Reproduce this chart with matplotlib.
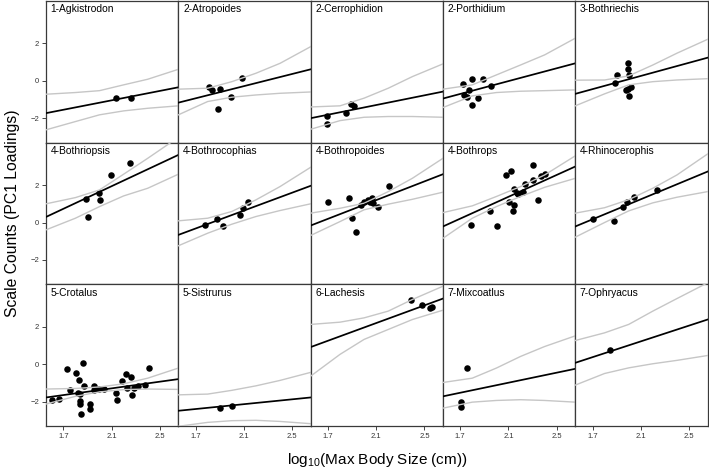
import matplotlib
matplotlib.use('Agg')
from matplotlib import pyplot as plt
import numpy as np

plt.rcParams['font.family'] = ['Liberation Sans', 'DejaVu Sans']
plt.rcParams['mathtext.fontset'] = 'custom'
plt.rcParams['mathtext.rm'] = 'Liberation Sans'
plt.rcParams['mathtext.default'] = 'regular'

genera = ['1-Agkistrodon', '2-Atropoides', '2-Cerrophidion', '2-Porthidium', '3-Bothriechis',
          '4-Bothriopsis', '4-Bothrocophias', '4-Bothropoides', '4-Bothrops', '4-Rhinocerophis',
          '5-Crotalus', '5-Sistrurus', '6-Lachesis', '7-Mixcoatlus', '7-Ophryacus']

# species points: log10 max body size, PC1 loading
pts_x = [
    [2.14, 2.26],
    [1.814, 1.838, 1.902, 1.888, 1.993, 2.084],
    [1.695, 1.695, 1.852, 1.894, 1.913],
    [1.725, 1.800, 1.885, 1.772, 1.734, 1.758, 1.844, 1.800, 1.957],
    [1.888, 1.905, 1.998, 1.993, 2.004, 2.021, 1.974, 1.993, 2.001],
    [1.885, 1.907, 1.999, 2.004, 2.092, 2.250],
    [1.778, 1.880, 1.924, 2.070, 2.095, 2.136],
    [1.700, 1.872, 1.902, 1.930, 1.971, 1.996, 2.032, 2.068, 2.073, 2.051, 2.114, 2.205],
    [1.786, 1.946, 2.001, 2.081, 2.117, 2.103, 2.139, 2.150, 2.148, 2.167, 2.181, 2.222,
     2.241, 2.302, 2.305, 2.349, 2.366, 2.401],
    [1.700, 1.880, 1.949, 1.982, 2.040, 2.236],
    [1.609, 1.667, 1.731, 1.758, 1.805, 1.827, 1.819, 1.838, 1.836, 1.838, 1.847, 1.863,
     1.872, 1.921, 1.921, 1.952, 1.957, 1.998, 2.034, 2.134, 2.142, 2.183, 2.216, 2.225,
     2.261, 2.266, 2.288, 2.319, 2.379, 2.410],
    [1.905, 2.004],
    [2.385, 2.481, 2.550, 2.567],
    [1.756, 1.709, 1.709],
    [1.847],
]
pts_y = [
    [-0.89, -0.89],
    [-0.30, -0.48, -0.44, -1.49, -0.85, 0.16],
    [-1.87, -2.29, -1.69, -1.23, -1.32],
    [-0.18, 0.11, 0.11, -0.48, -0.75, -0.84, -0.92, -1.26, -0.28],
    [-0.12, 0.30, 0.98, 0.62, 0.30, -0.34, -0.48, -0.44, -0.80],
    [1.28, 0.28, 1.55, 1.19, 2.56, 3.18],
    [-0.14, 0.20, -0.21, 0.41, 0.78, 1.07],
    [1.08, 1.32, 0.25, -0.53, 0.92, 1.12, 1.21, 1.30, 1.03, 1.10, 0.85, 1.97],
    [-0.12, 0.64, -0.18, 2.52, 2.77, 1.08, 0.62, 0.94, 1.78, 1.60, 1.53, 1.65,
     2.04, 3.09, 2.28, 1.21, 2.49, 2.58],
    [0.20, 0.09, 0.82, 1.07, 1.37, 1.72],
    [-1.90, -1.88, -0.28, -1.39, -0.46, -0.87, -1.53, -1.58, -1.96, -2.13, -2.65, 0.05,
     -1.16, -2.12, -2.40, -1.37, -1.16, -1.35, -1.33, -1.55, -1.92, -0.89, -0.53, -1.28,
     -0.68, -1.65, -1.30, -1.19, -1.12, -0.20],
    [-2.35, -2.22],
    [3.45, 3.18, 2.97, 3.06],
    [-0.21, -2.03, -2.31],
    [0.75],
]

# fitted line at the two ends of the x range
fit_left = [-1.72, -1.16, -1.99, -0.94, -0.69, 0.30, -0.66, -0.16, -0.21, -0.21,
            -1.78, -2.49, 0.91, -1.72, 0.07]
fit_right = [-0.34, 0.62, -0.57, 0.94, 1.24, 3.61, 1.96, 2.58, 2.99, 2.72,
             -0.80, -1.78, 3.50, -0.25, 2.38]

# confidence band read at these x positions
band_x = [1.557, 1.8, 2.0, 2.2, 2.4, 2.654]
band_up = [
    [-0.71, -0.62, -0.52, -0.21, 0.09, 0.62],
    [-0.44, -0.39, -0.04, 0.41, 0.94, 1.83],
    [-1.39, -1.33, -0.92, -0.39, 0.23, 0.91],
    [-0.44, -0.21, 0.32, 0.85, 1.39, 2.28],
    [0.04, 0.05, 0.27, 0.85, 1.48, 2.22],
    [1.00, 1.33, 1.74, 2.58, 3.43, 4.55],
    [0.09, 0.23, 0.59, 1.21, 1.92, 2.95],
    [0.50, 0.76, 1.03, 1.65, 2.36, 3.43],
    [0.53, 0.89, 1.39, 1.92, 2.54, 3.56],
    [0.50, 0.79, 1.22, 1.83, 2.54, 3.66],
    [-1.33, -1.30, -1.22, -1.05, -0.75, -0.21],
    [-1.64, -1.60, -1.40, -1.16, -0.87, -0.44],
    [2.12, 2.24, 2.47, 2.83, 3.45, 4.16],
    [-0.98, -0.75, -0.21, 0.41, 0.94, 1.51],
    [1.26, 1.67, 2.12, 2.83, 3.50, 4.34],
]
band_low = [
    [-2.61, -2.17, -1.81, -1.60, -1.46, -1.33],
    [-1.81, -1.10, -0.87, -0.75, -0.66, -0.59],
    [-2.58, -2.12, -1.94, -1.90, -1.90, -1.94],
    [-1.42, -0.80, -0.62, -0.55, -0.52, -0.48],
    [-1.33, -0.69, -0.21, -0.04, 0.05, 0.12],
    [-0.39, 0.23, 0.85, 1.42, 1.83, 2.58],
    [-1.24, -0.57, -0.09, 0.32, 0.64, 1.00],
    [-0.69, 0.05, 0.68, 0.98, 1.24, 1.62],
    [-0.84, 0.23, 0.85, 1.39, 1.88, 2.36],
    [-0.78, 0.00, 0.62, 1.05, 1.35, 1.65],
    [-2.13, -1.72, -1.48, -1.36, -1.33, -1.35],
    [-3.32, -3.11, -3.02, -3.00, -3.06, -3.18],
    [-0.64, 0.52, 1.32, 1.85, 2.38, 2.88],
    [-2.35, -2.03, -1.94, -1.90, -1.94, -2.03],
    [-1.12, -0.50, -0.20, 0.02, 0.20, 0.46],
]

fig, axes = plt.subplots(3, 5, figsize=(7.09, 4.72), dpi=100)
fig.subplots_adjust(left=0.065, right=0.998, top=0.998, bottom=0.098, wspace=0, hspace=0)

for i, ax in enumerate(axes.flat):
    row, col = divmod(i, 5)
    ax.scatter(pts_x[i], pts_y[i], s=22, color='black', linewidths=0, zorder=2)
    ax.plot(band_x, band_up[i], color='#c6c6c6', lw=1.0, zorder=3)
    ax.plot(band_x, band_low[i], color='#c6c6c6', lw=1.0, zorder=3)
    ax.plot([band_x[0], band_x[-1]], [fit_left[i], fit_right[i]], color='black', lw=1.25, zorder=4)
    ax.set_xlim(1.557, 2.654)
    ax.set_ylim(-3.29, 4.27)
    ax.set_xticks([1.7, 2.1, 2.5])
    ax.set_yticks([-2, 0, 2])
    ax.tick_params(labelsize=5.5, length=3, width=0.7, color='#444444', labelcolor='#333333', pad=2)
    if col != 0:
        ax.tick_params(left=False, labelleft=False)
    if row != 2:
        ax.tick_params(bottom=False, labelbottom=False)
    for sp in ax.spines.values():
        sp.set_color('#3a3a3a')
        sp.set_linewidth(0.9)
    ax.text(0.035, 0.975, genera[i], transform=ax.transAxes, fontsize=7.4, va='top', ha='left')

fig.text(0.017, 0.549, 'Scale Counts (PC1 Loadings)', rotation=90, fontsize=11.3,
         ha='center', va='center')
fig.text(0.532, 0.025, 'log$_{10}$(Max Body Size (cm))', fontsize=11, ha='center', va='center')

plt.savefig('out.png')
